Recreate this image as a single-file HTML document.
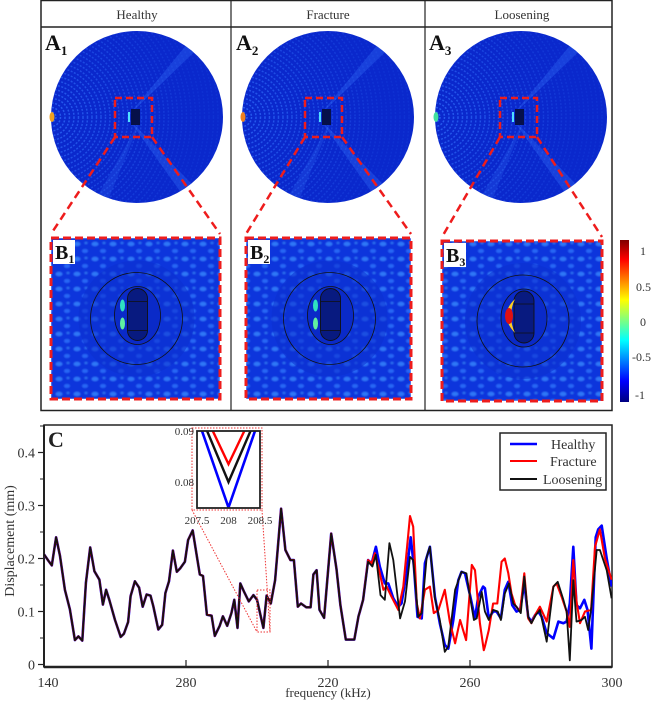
<!DOCTYPE html>
<html><head><meta charset="utf-8"><style>
html,body{margin:0;padding:0;background:#fff;}
svg{display:block;font-family:"Liberation Serif",serif;}
</style></head><body>
<svg id="fig" width="653" height="702" viewBox="0 0 653 702" xmlns="http://www.w3.org/2000/svg">
<defs>
<linearGradient id="jet" x1="0" y1="0" x2="0" y2="1">
<stop offset="0" stop-color="#800000"/><stop offset="0.12" stop-color="#ff0000"/><stop offset="0.37" stop-color="#ffff00"/><stop offset="0.62" stop-color="#00ffff"/><stop offset="0.87" stop-color="#0000ff"/><stop offset="1" stop-color="#000080"/>
</linearGradient>
<pattern id="blobs" width="18" height="15" patternUnits="userSpaceOnUse">
<rect width="18" height="15" fill="#0c34dc"/>
<ellipse cx="5" cy="4" rx="3.5" ry="2.2" fill="#3a8cff" opacity="0.75"/>
<ellipse cx="13" cy="11" rx="3" ry="2" fill="#2f7cff" opacity="0.7"/>
<ellipse cx="14" cy="3" rx="1.6" ry="1.2" fill="#48a8ff" opacity="0.5"/>
</pattern>
<filter id="soft"><feGaussianBlur stdDeviation="0.9"/></filter>
<clipPath id="plotclip"><rect x="44" y="425" width="568" height="242"/></clipPath>
<clipPath id="insetclip"><rect x="197" y="431" width="63" height="77"/></clipPath>
</defs>

<g>
<rect x="41" y="0.5" width="571" height="410" fill="#fff" stroke="#222" stroke-width="1.5"/>
<line x1="41" y1="27" x2="612" y2="27" stroke="#222" stroke-width="1.5"/>
<line x1="231" y1="0" x2="231" y2="410" stroke="#222" stroke-width="1.2"/>
<line x1="425" y1="0" x2="425" y2="410" stroke="#222" stroke-width="1.2"/>
<text x="137" y="19" font-size="13" text-anchor="middle" fill="#333">Healthy</text>
<text x="328" y="19" font-size="13" text-anchor="middle" fill="#333">Fracture</text>
<text x="522" y="19" font-size="13" text-anchor="middle" fill="#333">Loosening</text>
</g>
<g id="panels"></g>

<g>
<rect x="620" y="240" width="9" height="162" fill="url(#jet)"/>
<text x="640" y="255" font-size="12" fill="#333">1</text>
<text x="636" y="291" font-size="12" fill="#333">0.5</text>
<text x="640" y="326" font-size="12" fill="#333">0</text>
<text x="632" y="361" font-size="12" fill="#333">-0.5</text>
<text x="635" y="399" font-size="12" fill="#333">-1</text>
</g>

<g>
<rect x="44" y="425" width="568" height="242" fill="#fff" stroke="#222" stroke-width="1.5"/>
<line x1="44" y1="667" x2="612" y2="667" stroke="#222" stroke-width="2.5"/>
<line x1="44" y1="425" x2="44" y2="667" stroke="#222" stroke-width="2"/>
<text x="48" y="447" font-size="22" font-weight="bold" fill="#222">C</text>
<g id="axes"></g>
<g id="series" clip-path="url(#plotclip)"></g>
<text x="14" y="541" font-size="14" fill="#333" text-anchor="middle" transform="rotate(-90 14 541)">Displacement (mm)</text>
<text x="328" y="697" font-size="13" fill="#333" text-anchor="middle">frequency (kHz)</text>
<g id="inset"></g>
<g>
<rect x="500" y="433" width="106" height="57" fill="#fff" stroke="#222" stroke-width="1.5"/>
<g><line x1="510" y1="444" x2="537" y2="444" stroke="#0000ff" stroke-width="2.5"/><text x="551" y="449" font-size="14" fill="#333">Healthy</text></g>
<g><line x1="510" y1="461" x2="537" y2="461" stroke="#ff0000" stroke-width="2"/><text x="550" y="466" font-size="14" fill="#333">Fracture</text></g>
<g><line x1="510" y1="479" x2="537" y2="479" stroke="#111" stroke-width="2"/><text x="543" y="484" font-size="14" fill="#333">Loosening</text></g>
</g>
</g>
</svg>
<script>
// ---------- chart data ----------
const commonX = [140,141.2,142.2,143.4,144.5,145.9,147.3,148.7,149.7,150.8,151.8,153,154.2,155.6,156.6,157.5,158.4,160,161.6,162.5,163.7,164.4,165.6,166.8,167.8,168.9,170,170.8,172.2,173.3,174.2,175.2,176.3,177.4,178.3,179.7,180.6,181.9,183,183.9,184.8,185.9,187.2,188.1,189.5,190.4,191.6,192.8,193.6,194.5,195.3,196.3,197.7,199,200,201.8,202.7,203.9,205.1,206.8,208,209.4,210.4,211.5,212.4,213.9,215.1,215.9,216.8,217.6,218.9,220.9,222.4,223.5,225,226,227.4,228.6];
const commonY = [0.208,0.196,0.187,0.240,0.205,0.141,0.104,0.046,0.053,0.045,0.154,0.221,0.176,0.160,0.113,0.141,0.122,0.084,0.052,0.058,0.080,0.129,0.157,0.145,0.109,0.132,0.130,0.110,0.066,0.075,0.135,0.157,0.215,0.175,0.181,0.194,0.235,0.253,0.206,0.170,0.167,0.094,0.092,0.054,0.073,0.091,0.073,0.097,0.122,0.069,0.153,0.138,0.119,0.131,0.122,0.069,0.130,0.115,0.159,0.294,0.216,0.197,0.197,0.109,0.115,0.108,0.108,0.170,0.178,0.103,0.088,0.247,0.180,0.112,0.047,0.047,0.047,0.091];
const healthyX = [229.0,229.9,231.3,232.3,233.5,234.6,236.0,237.0,238.4,239.8,240.7,242.1,243.3,244.2,245.2,246.4,247.3,248.7,250.1,251.5,252.9,253.9,255.3,256.7,257.6,258.6,260.0,261.4,262.3,263.7,264.2,265.3,266.5,267.5,268.7,269.8,270.8,271.9,273.1,274.1,275.3,276.4,277.3,278.3,279.2,280.2,281.6,283.5,284.9,286.3,287.2,288.1,289.1,290.0,291.0,292.2,293.1,294.2,295.4,296.1,297.1,298.5,299.9];
const healthyY = [0.100,0.122,0.197,0.191,0.222,0.185,0.153,0.153,0.125,0.109,0.115,0.172,0.240,0.185,0.090,0.087,0.191,0.222,0.128,0.078,0.037,0.030,0.084,0.159,0.175,0.172,0.131,0.087,0.128,0.147,0.144,0.087,0.100,0.100,0.087,0.141,0.156,0.112,0.100,0.103,0.153,0.090,0.081,0.093,0.100,0.090,0.059,0.049,0.081,0.078,0.081,0.115,0.222,0.112,0.106,0.122,0.103,0.030,0.240,0.255,0.262,0.200,0.147];
const fractureX = [229.0,229.9,231.3,232.3,233.2,234.6,235.6,236.5,237.9,239.8,241.2,243.1,244.0,245.0,245.9,247.3,248.7,249.8,251.1,252.9,254.3,255.8,257.2,258.9,260.5,261.4,262.8,263.9,264.2,265.3,266.5,267.7,268.9,269.8,270.8,271.7,272.7,274.1,275.3,276.4,277.3,278.3,279.7,281.6,283.5,284.4,285.8,287.2,288.1,289.1,290.0,291.0,292.4,294.1,295.2,296.6,298.0,299.9];
const fractureY = [0.100,0.122,0.197,0.191,0.210,0.172,0.141,0.147,0.128,0.103,0.147,0.280,0.260,0.115,0.087,0.141,0.147,0.097,0.103,0.141,0.081,0.040,0.084,0.046,0.188,0.178,0.078,0.027,0.034,0.065,0.115,0.115,0.194,0.200,0.172,0.134,0.112,0.100,0.172,0.087,0.078,0.093,0.109,0.081,0.147,0.153,0.128,0.100,0.071,0.197,0.119,0.078,0.100,0.103,0.222,0.255,0.200,0.160];
const looseningX = [229.0,229.9,231.3,232.5,233.5,234.8,236.0,237.3,238.4,240.3,241.7,243.1,244.0,245.4,246.4,247.8,248.7,250.1,251.5,252.9,253.9,255.8,257.6,259.0,260.0,261.1,261.9,263.3,264.2,265.3,266.5,267.8,268.7,269.8,271.0,272.2,273.1,274.3,275.3,276.4,277.3,278.5,279.7,281.6,283.5,284.7,286.3,287.2,288.1,289.1,290.0,291.4,292.4,293.3,294.2,295.7,296.6,298.5,299.9];
const looseningY = [0.100,0.122,0.194,0.185,0.207,0.131,0.122,0.229,0.197,0.087,0.119,0.203,0.197,0.090,0.097,0.203,0.222,0.125,0.084,0.024,0.034,0.141,0.175,0.172,0.128,0.084,0.087,0.137,0.100,0.084,0.103,0.100,0.084,0.134,0.153,0.115,0.109,0.097,0.166,0.090,0.078,0.093,0.103,0.043,0.147,0.156,0.122,0.100,0.008,0.159,0.081,0.084,0.090,0.065,0.109,0.216,0.216,0.178,0.125];
const xTickValues = [140,180,220,260,300];
const xTickLabels = ["140","280","220","260","300"];
const yTickValues = [0,0.1,0.2,0.3,0.4];
const yTickLabels = ["0","0.1","0.2","0.3","0.4"];
const insetHealthyX = [207.58,208,208.42];
const insetHealthyY = [0.09,0.075,0.09];
const insetFractureX = [207.75,208,208.25];
const insetFractureY = [0.09,0.0835,0.09];
const insetLooseningX = [207.66,208,208.35];
const insetLooseningY = [0.09,0.080,0.09];
const insetXTicks = [207.5,208,208.5];
const insetXLabels = ["207.5","208","208.5"];
const insetYTicks = [0.08,0.09];
const insetYLabels = ["0.08","0.09"];

const NS = "http://www.w3.org/2000/svg";
function mk(tag, attrs, parent){const e=document.createElementNS(NS,tag);for(const k in attrs)e.setAttribute(k,attrs[k]);if(parent)parent.appendChild(e);return e;}
const X = k => 44 + (k-140)*3.55;
const Y = v => 664.5 - v*530;

const axes = document.getElementById('axes');
xTickValues.forEach((v,i)=>{
  const t = mk('line',{x1:X(v),y1:667,x2:X(v),y2:660,stroke:'#222','stroke-width':1.2},axes);
  
  
  const l = mk('text',{x:X(v)+ (i===0?4:0),y:687,'font-size':14,'text-anchor':'middle',fill:'#333'},axes);
  l.textContent = xTickLabels[i];
  
  
});
yTickValues.forEach((v,i)=>{
  const t = mk('line',{x1:38,y1:Y(v),x2:44,y2:Y(v),stroke:'#222','stroke-width':1.2},axes);
  
  
  const m = mk('line',{x1:40,y1:Y(v+0.05),x2:44,y2:Y(v+0.05),stroke:'#222','stroke-width':1},axes);
  
  
  const l = mk('text',{x:35,y:Y(v)+5,'font-size':14,'text-anchor':'end',fill:'#333'},axes);
  l.textContent = yTickLabels[i];
  
  
});

function pathD(xs, ys, fx, fy){
  const n=Math.min(xs.length,ys.length);let d='';
  for(let i=0;i<n;i++) d += (i?'L':'M')+fx(xs[i]).toFixed(1)+','+fy(ys[i]).toFixed(1);
  return d;
}
const series = document.getElementById('series');
const specs = [
  ['series-healthy',healthyX,healthyY,'#0000ff',2.6],
  ['series-fracture',fractureX,fractureY,'#ff0000',2.1],
  ['series-loosening',looseningX,looseningY,'#111111',1.8]
];
specs.forEach(s=>{
  const xs = commonX.concat(s[1]), ys = commonY.concat(s[2]);
  const p = mk('path',{d:pathD(xs,ys,X,Y),fill:'none',stroke:s[3],'stroke-width':s[4],'stroke-linejoin':'round'},series);
  
  
});

const inset = document.getElementById('inset');
const IX = k => 197 + (k-207.5)*63;
const IY = v => 482 - (v-0.08)*5100;
mk('rect',{x:192,y:428,width:70,height:82,fill:'#fff',stroke:'#e33','stroke-width':1,'stroke-dasharray':'1.5 1.5'},inset);
const zl1 = mk('line',{x1:192,y1:510,x2:257,y2:632,stroke:'#e33','stroke-width':1,'stroke-dasharray':'1.5 1.5'},inset);


const zl2 = mk('line',{x1:262,y1:510,x2:270,y2:632,stroke:'#e33','stroke-width':1,'stroke-dasharray':'1.5 1.5'},inset);


const zb = mk('rect',{x:257,y:590,width:13,height:42,fill:'none',stroke:'#e33','stroke-width':1,'stroke-dasharray':'1.5 1.5'},inset);


const ig = mk('g',{'clip-path':'url(#insetclip)'},inset);
[['inset-healthy',insetHealthyX,insetHealthyY,'#0000ff',2.6],['inset-fracture',insetFractureX,insetFractureY,'#ff0000',2.4],['inset-loosening',insetLooseningX,insetLooseningY,'#111',2.4]].forEach(s=>{
  const p = mk('path',{d:pathD(s[1],s[2],IX,IY),fill:'none',stroke:s[3],'stroke-width':s[4]},ig);
  
  
});
const ibox = mk('rect',{x:197,y:431,width:63,height:77,fill:'none',stroke:'#222','stroke-width':1.8},inset);


insetYTicks.forEach((v,i)=>{
  const l = mk('text',{x:194,y:IY(v)+4,'font-size':11,'text-anchor':'end',fill:'#333'},inset);
  l.textContent = insetYLabels[i];
  
  
});
insetXTicks.forEach((v,i)=>{
  const l = mk('text',{x:IX(v),y:524,'font-size':11,'text-anchor':'middle',fill:'#333'},inset);
  l.textContent = insetXLabels[i];
  
  
});

// ---------- heatmap panels (decorative) ----------
const panels = document.getElementById('panels');
const cols = [
  {cx:137, bx:51, bw:169, by:238, bh:161, idx:1, sx:115, spot:'#f0a020', mode:'h'},
  {cx:328, bx:246, bw:165, by:238, bh:161, idx:2, sx:305, spot:'#f08020', mode:'f'},
  {cx:521, bx:442, bw:160, by:241, bh:160, idx:3, sx:500, spot:'#40e0a0', mode:'l'}
];
cols.forEach((c,ci)=>{
  const g = mk('g',{},panels);
  
  
  const cid='cc'+ci;
  const cp = mk('clipPath',{id:cid},g); mk('circle',{cx:c.cx,cy:117,r:86},cp);
  const disk = mk('circle',{cx:c.cx,cy:117,r:86,fill:'#0a28cc'},g);
  
  
  const rg = mk('g',{'clip-path':'url(#'+cid+')'},g);
  for(let r=5;r<170;r+=4.5){ mk('circle',{cx:c.cx-86,cy:117,r:r,fill:'none',stroke:'#3474ff','stroke-width':1.5,opacity:Math.max(0.12,0.7-r/250).toFixed(2),'stroke-dasharray':'2 1.5'},rg); }
  mk('path',{d:`M${c.cx-10},117 L${c.cx+70},20 L${c.cx+80},30 Z`,fill:'#3a7cff',opacity:0.3},rg);
  mk('path',{d:`M${c.cx-10},117 L${c.cx+60},215 L${c.cx+75},205 Z`,fill:'#3a7cff',opacity:0.3},rg);
  mk('path',{d:`M${c.cx+5},117 L${c.cx-50},215 L${c.cx-35},215 Z`,fill:'#3a7cff',opacity:0.2},rg);
  mk('rect',{x:c.cx-6,y:109,width:9,height:16,fill:'#06104a'},g);
  mk('rect',{x:c.cx-9,y:112,width:2,height:10,fill:'#50e0ff'},g);
  mk('ellipse',{cx:c.cx-85,cy:117,rx:2.5,ry:5,fill:c.spot},g);
  const sb = mk('rect',{x:c.sx,y:98,width:37,height:39,fill:'none',stroke:'#ee1c1c','stroke-width':2.5,'stroke-dasharray':'7 4'},g);
  
  
  mk('line',{x1:c.sx,y1:137,x2:c.bx,y2:c.by-4,stroke:'#ee1c1c','stroke-width':2.5,'stroke-dasharray':'8 5'},g);
  mk('line',{x1:c.sx+37,y1:137,x2:c.bx+c.bw,y2:c.by-4,stroke:'#ee1c1c','stroke-width':2.5,'stroke-dasharray':'8 5'},g);
  const bcid='bc'+ci;
  const bcp = mk('clipPath',{id:bcid},g); mk('rect',{x:c.bx,y:c.by,width:c.bw,height:c.bh},bcp);
  const bg = mk('g',{'clip-path':'url(#'+bcid+')'},g);
  const bmap = mk('rect',{x:c.bx,y:c.by,width:c.bw,height:c.bh,fill:'url(#blobs)',filter:'url(#soft)'},bg);
  
  
  const mx=c.bx+c.bw/2+1, my=c.by+c.bh/2;
  mk('circle',{cx:mx,cy:my,r:58,fill:'#0c2fd0',opacity:0.55},bg);
  mk('circle',{cx:mx,cy:my,r:46,fill:'none',stroke:'#111','stroke-width':0.8},bg);
  mk('ellipse',{cx:mx+1,cy:my-3,rx:23,ry:29,fill:'#0a2ac8',stroke:'#111','stroke-width':0.8},bg);
  mk('rect',{x:mx-9,y:my-30,width:20,height:52,rx:10,fill:'#081a80',stroke:'#111','stroke-width':0.9},bg);
  mk('line',{x1:mx-9,y1:my-17,x2:mx+11,y2:my-17,stroke:'#111','stroke-width':0.8},bg);
  mk('line',{x1:mx-9,y1:my+12,x2:mx+11,y2:my+12,stroke:'#111','stroke-width':0.8},bg);
  if(c.mode==='l'){
    mk('path',{d:`M${mx-8},${my-22} Q${mx-25},${my-6} ${mx-8},${my+12} Q${mx-16},${my-5} ${mx-8},${my-22} Z`,fill:'#ffd020'},bg);
    mk('ellipse',{cx:mx-14,cy:my-5,rx:4,ry:8,fill:'#e01010'},bg);
  } else {
    mk('ellipse',{cx:mx-14,cy:my-13,rx:2.5,ry:6,fill:'#30e0c0'},bg);
    mk('ellipse',{cx:mx-14,cy:my+5,rx:2.5,ry:6,fill:'#60f0a0'},bg);
  }
  const bb = mk('rect',{x:c.bx,y:c.by,width:c.bw,height:c.bh,fill:'none',stroke:'#ee1c1c','stroke-width':3,'stroke-dasharray':'8 4'},g);
  
  
  mk('rect',{x:c.bx+2,y:c.by+2,width:22,height:24,fill:'#fff'},g);
  const bl = mk('text',{x:c.bx+4,y:c.by+21,'font-size':20,'font-weight':'bold',fill:'#111'},g);
  bl.innerHTML = 'B<tspan font-size="12" dy="4">'+c.idx+'</tspan>';
  
  
  const al = mk('text',{x:c.cx-92,y:50,'font-size':22,'font-weight':'bold',fill:'#111'},g);
  al.innerHTML = 'A<tspan font-size="13" dy="5">'+c.idx+'</tspan>';
  
  
});
</script>
</body></html>
